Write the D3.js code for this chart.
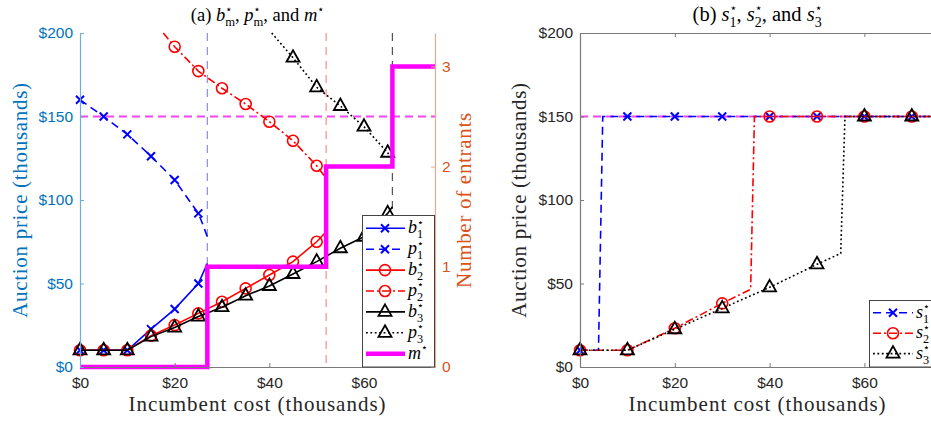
<!DOCTYPE html>
<html>
<head>
<meta charset="utf-8">
<script src="https://cdn.jsdelivr.net/npm/d3@7"></script>
<style>
  body { margin: 0; background: #fff; }
  svg { display: block; }
  text { font-family: "Liberation Sans", Arial, sans-serif; }
  .serif { font-family: "Liberation Serif", "Times New Roman", serif; }
</style>
</head>
<body>
<svg id="chart" width="931" height="423"></svg>
<script>
// values in thousands of dollars

// panel (a)
const cutoffs = [26.9, 52, 66];
const reservePrice = 150;
const entrantsX = [0, 26.9, 52, 66, 75];
const entrantsN = [0, 1, 2, 3, 3];

const b1X = [0, 5, 10, 15, 20, 25, 26.9];
const b1Y = [10, 10, 10, 22.7, 34.7, 50, 62];
const p1X = [0, 5, 10, 15, 20, 25, 26, 26.9];
const p1Y = [160, 150, 139.3, 126.2, 112, 92, 85, 78];
const b2X = [0, 5, 10, 15, 20, 25, 30, 35, 40, 45, 50, 52];
const b2Y = [10, 10, 10, 18.8, 25.1, 32.1, 39.1, 47.1, 55.1, 63.1, 75, 81];
const p2X = [17.6, 20, 25, 30, 35, 40, 45, 50, 52];
const p2Y = [200, 191.8, 177.2, 166.9, 157.5, 146.9, 135.5, 120.5, 113];
const b3X = [0, 5, 10, 15, 20, 25, 30, 35, 40, 45, 50, 55, 60, 65, 66];
const b3Y = [10, 10, 10, 18.2, 23.6, 30.2, 35.8, 42.7, 48.5, 55.7, 63.1, 71.1, 78, 92, 96];
const p3X = [40.5, 45, 50, 55, 60, 65, 66];
const p3Y = [200, 185.2, 167.5, 156.3, 143.9, 128.3, 124];

// panel (b)
const s1X = [0, 3.9, 4.8, 10, 20, 30, 40, 50, 60, 70, 75];
const s1Y = [10, 10, 150, 150, 150, 150, 150, 150, 150, 150, 150];
const s2X = [0, 10, 20, 30, 36, 36.8, 40, 50, 60, 70, 75];
const s2Y = [10, 10, 23.2, 38.1, 46.5, 150, 150, 150, 150, 150, 150];
const s3X = [0, 10, 20, 30, 40, 50, 55, 55.9, 60, 70, 75];
const s3Y = [10, 10, 22.6, 35.1, 47.7, 61.5, 68, 150, 150, 150, 150];

const priceTicks = [0, 50, 100, 150, 200];
const costTicks = [0, 20, 40, 60];
const entrantTicks = [0, 1, 2, 3];

const blue = "#0000ff", red = "#ff0000", black = "#000000", magenta = "#ff00ff";
const axBlue = "#0072bd", axOrange = "#d95319", axGray = "#262626";

const svg = d3.select("#chart");

// write latex-ish math with tspans: parts are strings or {it, sup, sub}
function mathText(parent, x, y, parts, size, opts = {}) {
  const t = parent.append("text").attr("class", "serif")
    .attr("x", x).attr("y", y).attr("font-size", size)
    .attr("fill", opts.fill || "#000")
    .attr("text-anchor", opts.anchor || "start");
  let shift = 0;
  parts.forEach(p => {
    if (typeof p === "string") {
      t.append("tspan").attr("dy", -shift).text(p);
      shift = 0;
      return;
    }
    t.append("tspan").attr("dy", -shift).attr("font-style", "italic").text(p.it);
    shift = 0;
    let supLen = 0;
    if (p.sup) {
      const s = t.append("tspan").attr("font-size", size * 0.6)
        .attr("dy", -size * 0.42).attr("font-family", "DejaVu Sans").text(p.sup);
      supLen = s.node().getComputedTextLength();
      shift = -size * 0.42;
    }
    if (p.sub) {
      t.append("tspan").attr("font-size", size * 0.68)
        .attr("dx", p.sup ? -supLen : 0)
        .attr("dy", -shift + size * 0.28)
        .text(p.sub);
      shift = size * 0.28;
    }
  });
  return t;
}

function drawMarks(g, type, color, pts, x, y) {
  const sel = g.selectAll(null).data(pts).enter();
  if (type === "x") {
    sel.append("path")
      .attr("d", d => { const cx = x(d[0]), cy = y(d[1]);
        return `M${cx - 4},${cy - 4}L${cx + 4},${cy + 4}M${cx - 4},${cy + 4}L${cx + 4},${cy - 4}`; })
      .attr("stroke", color).attr("stroke-width", 2).attr("fill", "none");
  } else if (type === "o") {
    sel.append("circle").attr("cx", d => x(d[0])).attr("cy", d => y(d[1])).attr("r", 5.5)
      .attr("stroke", color).attr("stroke-width", 1.6).attr("fill", "none");
  } else {
    sel.append("path")
      .attr("d", d => { const cx = x(d[0]), cy = y(d[1]);
        return `M${cx},${cy - 7.5}L${cx + 6.5},${cy + 4}L${cx - 6.5},${cy + 4}Z`; })
      .attr("stroke", color).attr("stroke-width", 1.8).attr("fill", "none");
  }
}

const dashes = { solid: null, dash: "8,5", dashdot: "8,3,2,3", dot: "1.8,2.6" };

function drawSeries(g, s, x, y, step) {
  const pts = s.xs.map((v, i) => [v, s.ys[i]]);
  g.append("path").datum(pts)
    .attr("d", d3.line().x(d => x(d[0])).y(d => y(d[1])))
    .attr("fill", "none").attr("stroke", s.color).attr("stroke-width", 1.6)
    .attr("stroke-dasharray", dashes[s.dash]);
  drawMarks(g, s.mark, s.color, pts.filter(d => d[0] % step === 0), x, y);
}

const plotTop = 33, plotBottom = 367;

// ---------------- panel (a) ----------------
const xA = d3.scaleLinear().domain([0, 75]).range([80, 435]);
const yA = d3.scaleLinear().domain([0, 200]).range([plotBottom, plotTop]);
const yN = d3.scaleLinear().domain([0, 200 / 60]).range([plotBottom, plotTop]);
const gA = svg.append("g");

const seriesA = [
  { label: { it: "b", sup: "⋆", sub: "1" }, xs: b1X, ys: b1Y, color: blue, dash: "solid", mark: "x" },
  { label: { it: "p", sup: "⋆", sub: "1" }, xs: p1X, ys: p1Y, color: blue, dash: "dash", mark: "x" },
  { label: { it: "b", sup: "⋆", sub: "2" }, xs: b2X, ys: b2Y, color: red, dash: "solid", mark: "o" },
  { label: { it: "p", sup: "⋆", sub: "2" }, xs: p2X, ys: p2Y, color: red, dash: "dashdot", mark: "o" },
  { label: { it: "b", sup: "⋆", sub: "3" }, xs: b3X, ys: b3Y, color: black, dash: "solid", mark: "t" },
  { label: { it: "p", sup: "⋆", sub: "3" }, xs: p3X, ys: p3Y, color: black, dash: "dot", mark: "t" }
];

// reserve price and cutoff lines
gA.append("line").attr("x1", xA(0)).attr("x2", xA(75))
  .attr("y1", yA(reservePrice)).attr("y2", yA(reservePrice))
  .attr("stroke", "#f046f0").attr("stroke-width", 2.2).attr("stroke-dasharray", "8,5");
const cutColors = ["#8a8aff", "#ff8a8a", "#555555"];
gA.selectAll(null).data(cutoffs).enter().append("line")
  .attr("x1", d => xA(d)).attr("x2", d => xA(d)).attr("y1", plotTop).attr("y2", plotBottom)
  .attr("stroke", (d, i) => cutColors[i]).attr("stroke-width", 1.2).attr("stroke-dasharray", "8,6");

seriesA.forEach(s => drawSeries(gA, s, xA, yA, 5));

// number of entrants step
gA.append("path").datum(entrantsX.map((v, i) => [v, entrantsN[i]]))
  .attr("d", d3.line().x(d => xA(d[0])).y(d => yN(d[1])).curve(d3.curveStepAfter))
  .attr("fill", "none").attr("stroke", magenta).attr("stroke-width", 4.5);

// axes
const axA = gA.append("g").attr("transform", `translate(0,${plotBottom})`)
  .call(d3.axisBottom(xA).tickValues(costTicks).tickFormat(d => "$" + d)
    .tickSizeInner(-4).tickSizeOuter(0).tickPadding(10));
const axAL = gA.append("g").attr("transform", `translate(${xA(0)},0)`)
  .call(d3.axisLeft(yA).tickValues(priceTicks).tickFormat(d => "$" + d)
    .tickSizeInner(-4).tickSizeOuter(0).tickPadding(7));
const axAR = gA.append("g").attr("transform", `translate(${xA(75)},0)`)
  .call(d3.axisRight(yN).tickValues(entrantTicks).tickFormat(d3.format("d"))
    .tickSizeInner(-4).tickSizeOuter(0).tickPadding(7));

function styleAxis(ax, lineColor, textColor) {
  ax.select(".domain").attr("stroke", lineColor).attr("stroke-width", 1.2);
  ax.selectAll(".tick line").attr("stroke", lineColor);
  ax.selectAll(".tick text").attr("fill", textColor).attr("font-size", 15.5)
    .attr("font-family", "Liberation Sans, Arial, sans-serif");
}
styleAxis(axA, "#7a7a7a", axGray);
styleAxis(axAL, "#6eaede", axBlue);
styleAxis(axAR, "#eba88a", axOrange);
axA.selectAll(".tick line").filter(d => d === 0).remove();

// legend (a)
const legA = gA.append("g");
legA.append("rect").attr("x", 362.5).attr("y", 215.5).attr("width", 72).attr("height", 151.5)
  .attr("fill", "#fff").attr("stroke", "#444").attr("stroke-width", 1);
const rowsA = [228.3, 249.2, 270.1, 291, 311.9, 332.8, 353.7];
seriesA.forEach((s, i) => {
  const yy = rowsA[i];
  legA.append("line").attr("x1", 366).attr("x2", 405).attr("y1", yy).attr("y2", yy)
    .attr("stroke", s.color).attr("stroke-width", 1.6).attr("stroke-dasharray", dashes[s.dash]);
  drawMarks(legA, s.mark, s.color, [[385, yy]], v => v, v => v);
  mathText(legA, 408, yy + 5, [s.label], 18);
});
legA.append("line").attr("x1", 366).attr("x2", 405).attr("y1", rowsA[6]).attr("y2", rowsA[6])
  .attr("stroke", magenta).attr("stroke-width", 4.5);
mathText(legA, 408, rowsA[6] + 5, [{ it: "m", sup: "⋆" }], 18);

// titles & labels (a)
mathText(gA, 257.5, 21, ["(a) ", { it: "b", sup: "⋆", sub: "m" }, ", ",
  { it: "p", sup: "⋆", sub: "m" }, ", and ", { it: "m", sup: "⋆" }], 18.5, { anchor: "middle" });
gA.append("text").attr("class", "serif").attr("x", 257.5).attr("y", 411)
  .attr("text-anchor", "middle").attr("font-size", 21).attr("letter-spacing", 1)
  .attr("fill", axGray).text("Incumbent cost (thousands)");
gA.append("text").attr("class", "serif")
  .attr("transform", "translate(20,200) rotate(-90)").attr("dy", "0.35em")
  .attr("text-anchor", "middle").attr("font-size", 21).attr("letter-spacing", 0.7)
  .attr("fill", axBlue).text("Auction price (thousands)");
gA.append("text").attr("class", "serif")
  .attr("transform", "translate(464,200) rotate(-90)").attr("dy", "0.35em")
  .attr("text-anchor", "middle").attr("font-size", 21).attr("letter-spacing", 0.7)
  .attr("fill", axOrange).text("Number of entrants");

// ---------------- panel (b) ----------------
const xB = d3.scaleLinear().domain([0, 75]).range([580, 935.5]);
const yB = d3.scaleLinear().domain([0, 200]).range([plotBottom, plotTop]);
const gB = svg.append("g");

const seriesB = [
  { label: { it: "s", sup: "⋆", sub: "1" }, xs: s1X, ys: s1Y, color: blue, dash: "dash", mark: "x" },
  { label: { it: "s", sup: "⋆", sub: "2" }, xs: s2X, ys: s2Y, color: red, dash: "dashdot", mark: "o" },
  { label: { it: "s", sup: "⋆", sub: "3" }, xs: s3X, ys: s3Y, color: black, dash: "dot", mark: "t" }
];

gB.append("line").attr("x1", xB(0)).attr("x2", xB(75))
  .attr("y1", yB(reservePrice)).attr("y2", yB(reservePrice))
  .attr("stroke", "#f046f0").attr("stroke-width", 2.2).attr("stroke-dasharray", "8,5");
seriesB.forEach(s => drawSeries(gB, s, xB, yB, 10));

const axB = gB.append("g").attr("transform", `translate(0,${plotBottom})`)
  .call(d3.axisBottom(xB).tickValues(costTicks).tickFormat(d => "$" + d)
    .tickSizeInner(-4).tickSizeOuter(0).tickPadding(10));
const axBT = gB.append("g").attr("transform", `translate(0,${plotTop})`)
  .call(d3.axisTop(xB).tickValues(costTicks).tickFormat("")
    .tickSizeInner(-4).tickSizeOuter(0));
const axBL = gB.append("g").attr("transform", `translate(${xB(0)},0)`)
  .call(d3.axisLeft(yB).tickValues(priceTicks).tickFormat(d => "$" + d)
    .tickSizeInner(-4).tickSizeOuter(0).tickPadding(7));
[axB, axBT, axBL].forEach(a => styleAxis(a, "#7a7a7a", axGray));
axB.selectAll(".tick line").filter(d => d === 0).remove();
axBT.selectAll(".tick line").filter(d => d === 0).remove();

// legend (b)
const legB = gB.append("g");
legB.append("rect").attr("x", 869.5).attr("y", 300.5).attr("width", 80).attr("height", 66.5)
  .attr("fill", "#fff").attr("stroke", "#444").attr("stroke-width", 1);
const rowsB = [312.7, 333.3, 353.6];
seriesB.forEach((s, i) => {
  const yy = rowsB[i];
  legB.append("line").attr("x1", 873).attr("x2", 913).attr("y1", yy).attr("y2", yy)
    .attr("stroke", s.color).attr("stroke-width", 1.6).attr("stroke-dasharray", dashes[s.dash]);
  drawMarks(legB, s.mark, s.color, [[893, yy]], v => v, v => v);
  mathText(legB, 916, yy + 5, [s.label], 18);
});

mathText(gB, 757.5, 21, ["(b) ", { it: "s", sup: "⋆", sub: "1" }, ", ",
  { it: "s", sup: "⋆", sub: "2" }, ", and ", { it: "s", sup: "⋆", sub: "3" }], 20.5, { anchor: "middle" });
gB.append("text").attr("class", "serif").attr("x", 757.5).attr("y", 411)
  .attr("text-anchor", "middle").attr("font-size", 21).attr("letter-spacing", 1)
  .attr("fill", axGray).text("Incumbent cost (thousands)");
gB.append("text").attr("class", "serif")
  .attr("transform", "translate(519,200) rotate(-90)").attr("dy", "0.35em")
  .attr("text-anchor", "middle").attr("font-size", 21).attr("letter-spacing", 0.7)
  .attr("fill", axGray).text("Auction price (thousands)");
</script>
</body>
</html>
